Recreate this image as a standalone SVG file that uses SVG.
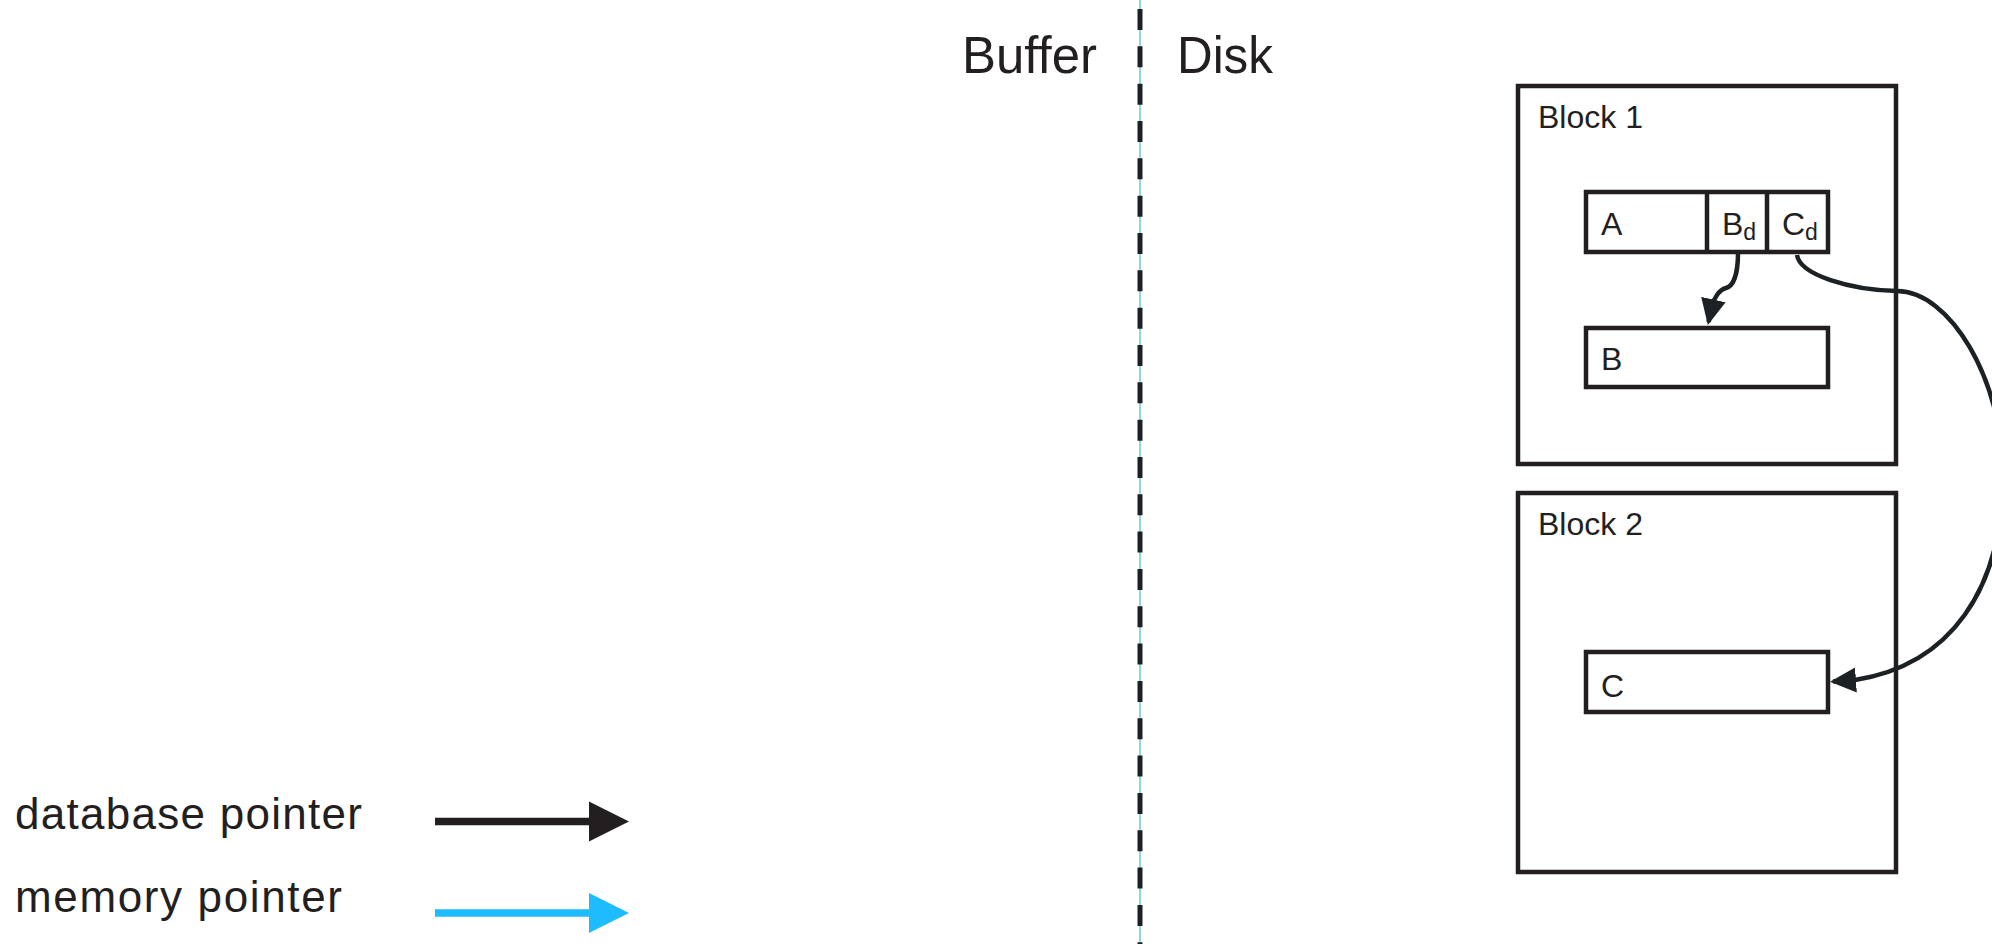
<svg xmlns="http://www.w3.org/2000/svg" width="1992" height="944" viewBox="0 0 1992 944">
<style>
  text { font-family: "Liberation Sans", Arial, sans-serif; fill: #231f20; }
  .box { fill: #ffffff; stroke: #231f20; stroke-width: 4.5; }
  .div { stroke: #231f20; stroke-width: 4.5; }
  .conn { fill: none; stroke: #1c2124; stroke-width: 4.5; }
  .lbl { font-size: 32px; }
  .sub { font-size: 23px; }
  .leg { font-size: 44px; }
</style>
<defs>
  <marker id="ah" markerUnits="userSpaceOnUse" markerWidth="26" markerHeight="26" refX="23" refY="12.5" orient="auto" viewBox="0 0 26 25">
    <path d="M0,0 L26,12.5 L0,25 Z" fill="#1c2124"/>
  </marker>
</defs>
<rect width="1992" height="944" fill="#ffffff"/>

<g id="divider">
  <line x1="1140" y1="0" x2="1140" y2="944" stroke="#8ed8dc" stroke-width="2"/>
  <line x1="1140" y1="0" x2="1140" y2="944" stroke="#1d2125" stroke-width="5" stroke-dasharray="21 16.33" stroke-dashoffset="28.33"/>
  <text x="962" y="73" font-size="52" textLength="135" lengthAdjust="spacingAndGlyphs">Buffer</text>
  <text x="1177" y="73" font-size="52" textLength="96" lengthAdjust="spacingAndGlyphs">Disk</text>
</g>

<g id="block1">
  <rect class="box" x="1518" y="86" width="378" height="378"/>
  <text class="lbl" x="1538" y="128">Block 1</text>
</g>

<g id="recordA">
  <rect class="box" x="1586" y="192" width="242" height="60"/>
  <line class="div" x1="1707" y1="192" x2="1707" y2="252"/>
  <line class="div" x1="1767" y1="192" x2="1767" y2="252"/>
  <text class="lbl" x="1601" y="235">A</text>
  <text class="lbl" x="1722" y="235">B<tspan class="sub" dy="5">d</tspan></text>
  <text class="lbl" x="1782" y="235">C<tspan class="sub" dy="5">d</tspan></text>
</g>

<g id="recordB">
  <rect class="box" x="1586" y="328" width="242" height="59"/>
  <text class="lbl" x="1601" y="370">B</text>
</g>

<g id="block2">
  <rect class="box" x="1518" y="493" width="378" height="379"/>
  <text class="lbl" x="1538" y="535">Block 2</text>
</g>

<g id="recordC">
  <rect class="box" x="1586" y="652" width="242" height="60"/>
  <text class="lbl" x="1601" y="697">C</text>
</g>

<g id="connectors">
  <path class="conn" d="M1738,253 C1738,272 1734,286 1726,288 C1719,290 1714,298 1712,306 L1708.5,322" marker-end="url(#ah)"/>
  <path class="conn" d="M1797,255 C1800,275 1850,290 1897,291 C1950,291 2003,380 2003,475 C2003,590 1950,665 1855,680 L1833,681.5" marker-end="url(#ah)"/>
</g>

<g id="legend">
  <text class="leg" x="15" y="829" textLength="347" lengthAdjust="spacing">database pointer</text>
  <line x1="435" y1="821.5" x2="590" y2="821.5" stroke="#231f20" stroke-width="7.5"/>
  <polygon points="589,801.5 629,821.5 589,841.5" fill="#231f20"/>
  <text class="leg" x="15" y="912" textLength="327" lengthAdjust="spacing">memory pointer</text>
  <line x1="435" y1="913" x2="590" y2="913" stroke="#1ebcff" stroke-width="7.5"/>
  <polygon points="589,893 629,913 589,933" fill="#1ebcff"/>
</g>
</svg>
